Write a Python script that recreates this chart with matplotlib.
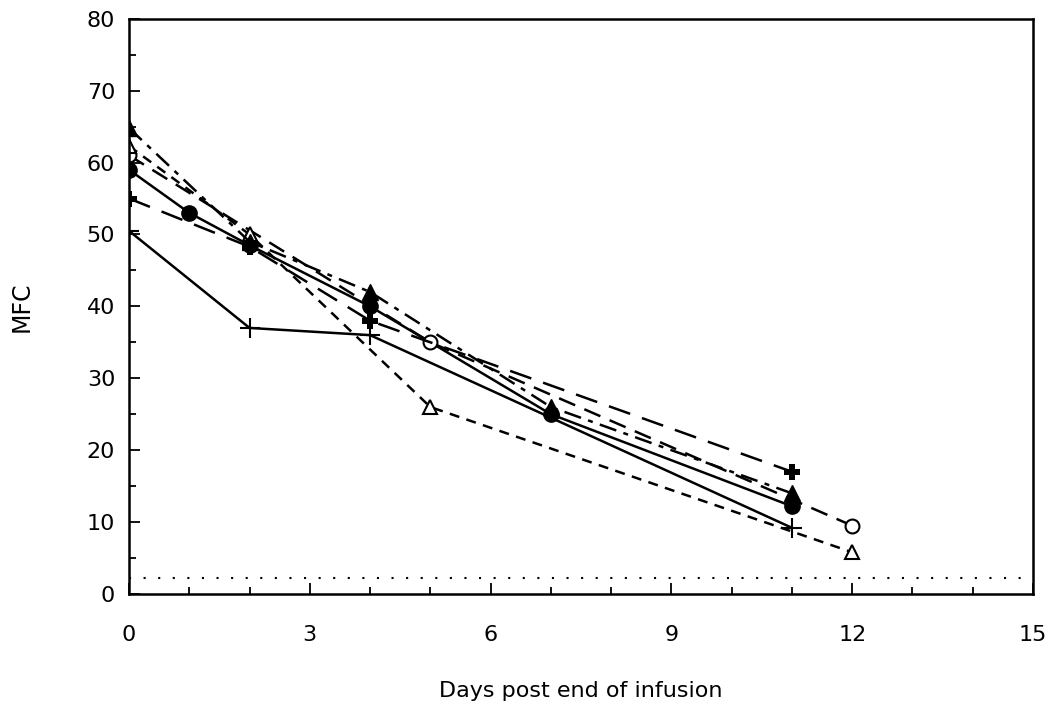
import matplotlib.pyplot as plt
from matplotlib.ticker import MultipleLocator

# days post end of infusion, MFC values per subject
thin_plus_x = [0, 2, 4, 11]
thin_plus_y = [50.5, 37, 36, 9.2]

filled_circle_x = [0, 1, 2, 4, 7, 11]
filled_circle_y = [59, 53, 48.5, 40, 25, 12.2]

open_circle_x = [0, 5, 12]
open_circle_y = [61, 35, 9.5]

open_tri_x = [0, 2, 5, 12]
open_tri_y = [62.3, 50, 26, 5.8]

filled_tri_x = [0, 2, 4, 7, 11]
filled_tri_y = [64.8, 49, 42, 26, 14]

bold_plus_x = [0, 2, 4, 11]
bold_plus_y = [55, 48.3, 38, 17]

baseline_y = 2.2

plt.rcParams['font.family'] = ['DejaVu Sans']
fig = plt.figure(figsize=(10.61, 7.19), dpi=100)
ax = fig.add_axes([0.1216, 0.1739, 0.852, 0.80])

lw = 1.8
ax.plot(thin_plus_x, thin_plus_y, color='black', lw=lw, ls='-',
        marker='+', ms=14, mew=1.5)
ax.plot(filled_circle_x, filled_circle_y, color='black', lw=lw, ls='-',
        marker='o', ms=11)
ax.plot(open_circle_x, open_circle_y, color='black', lw=lw, ls=(0, (7, 4)),
        marker='o', ms=10, mfc='white', mew=1.5)
ax.plot(open_tri_x, open_tri_y, color='black', lw=lw, ls=(0, (4, 3)),
        marker='^', ms=10, mfc='white', mew=1.5)
ax.plot(filled_tri_x, filled_tri_y, color='black', lw=lw, ls=(0, (7, 3, 2, 3)),
        marker='^', ms=11)
ax.plot(bold_plus_x, bold_plus_y, color='black', lw=lw, ls=(0, (9, 5)),
        marker='P', ms=11, mew=0)
ax.axhline(baseline_y, color='black', lw=1.5, ls=(0, (1, 6)))

ax.set_xlim(0, 15)
ax.set_ylim(0, 80)
ax.xaxis.set_major_locator(MultipleLocator(3))
ax.xaxis.set_minor_locator(MultipleLocator(1))
ax.yaxis.set_major_locator(MultipleLocator(10))
ax.yaxis.set_minor_locator(MultipleLocator(5))
ax.tick_params(which='both', direction='in', labelsize=16, width=1.3)
ax.tick_params(which='major', length=8)
ax.tick_params(which='minor', length=5)
ax.tick_params(axis='x', pad=22)
ax.tick_params(axis='y', pad=10)
for s in ax.spines.values():
    s.set_linewidth(1.8)

ax.set_xlabel('Days post end of infusion', fontsize=16, labelpad=26)
ax.set_ylabel('MFC', fontsize=17, labelpad=38)

fig.savefig('out.png', dpi=100)
